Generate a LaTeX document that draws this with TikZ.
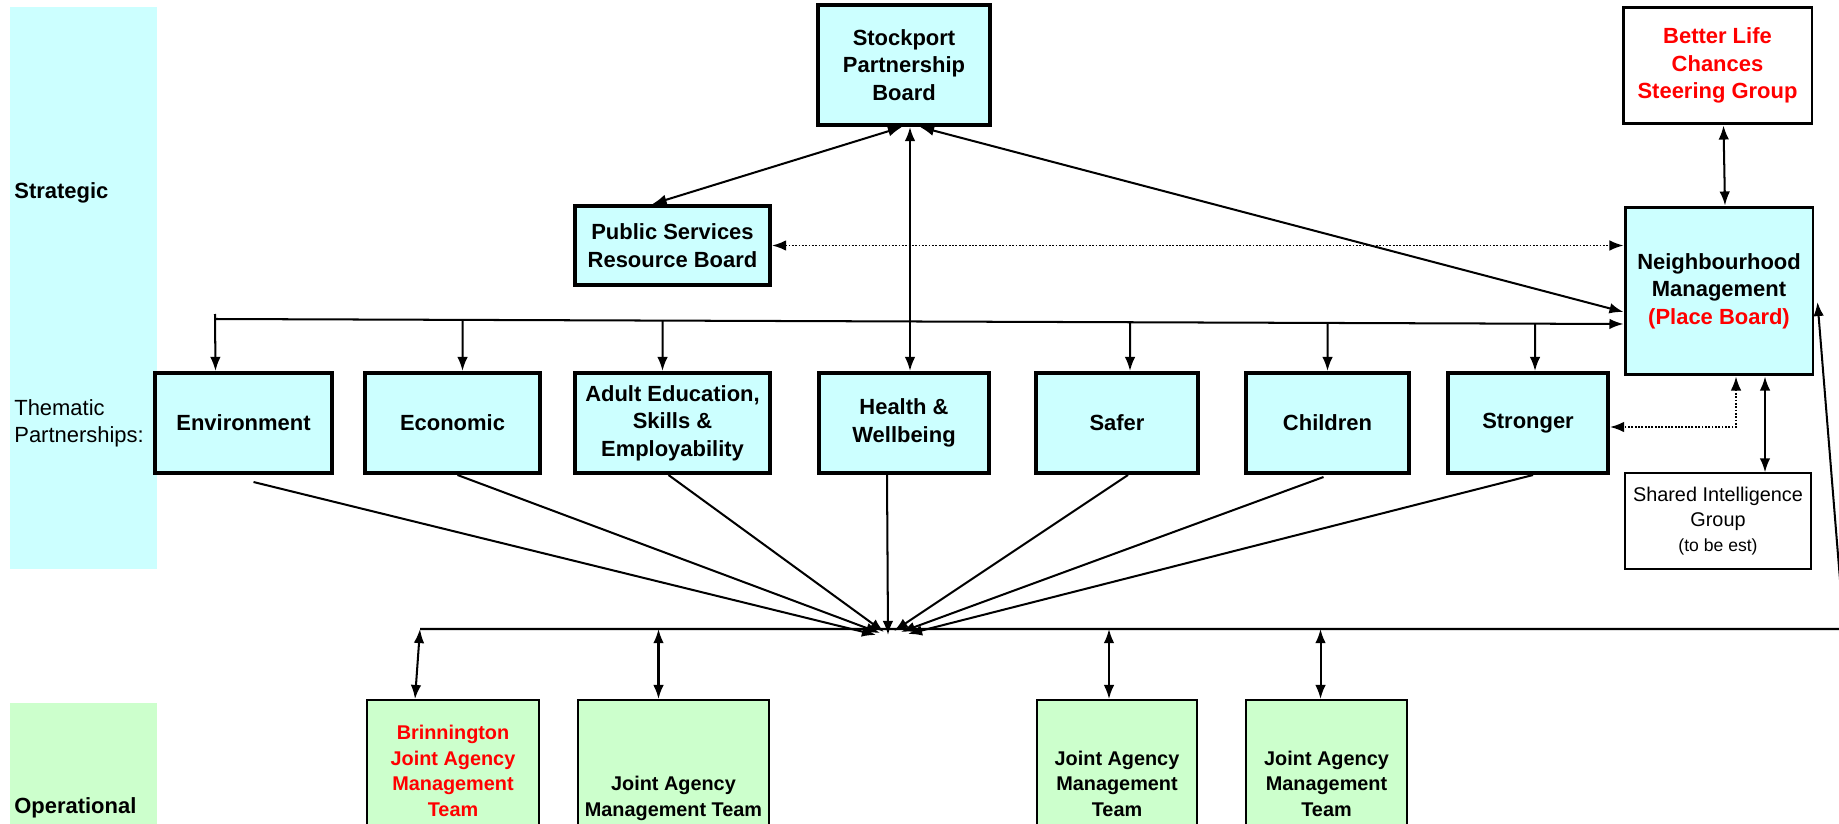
\documentclass[tikz,border=0pt]{standalone}
\usepackage{fontspec}
\setmainfont{Liberation Sans}
\usetikzlibrary{arrows.meta,calc}
\definecolor{paleblue}{HTML}{CCFFFF}
\definecolor{palegreen}{HTML}{CCFFCC}
\definecolor{placered}{HTML}{FF0000}

\begin{document}
\begin{tikzpicture}[x=0.02cm, y=-0.02cm, >={Latex[length=8pt,width=6pt]},
  board/.style={draw, line width=2.3pt, fill=paleblue, align=center, inner sep=2pt,
    font=\bfseries\fontsize{12.5}{15.6}\selectfont},
  team/.style={draw, line width=1.3pt, fill=palegreen, inner sep=0.03cm, minimum height=2.4cm,
    font=\bfseries\fontsize{11.3}{14.6}\selectfont},
  sidelabel/.style={anchor=west, align=left, inner sep=0pt, font=\fontsize{12.5}{15.6}\selectfont},
  link/.style={line width=1.15pt},
  hint/.style={line width=1pt, dash pattern=on 1pt off 0.9pt}]
  \useasboundingbox (0,0) rectangle (1839,824);
  % side bands
  \fill[paleblue] (10,7) rectangle (157,569);
  \fill[palegreen] (10,703) rectangle (157,824);
  \node[sidelabel, font=\bfseries\fontsize{12.5}{15.6}\selectfont] (strat) at (14,193) {Strategic};
  \node[sidelabel] (them) at (14,423.5) {Thematic\\Partnerships:};
  \node[sidelabel, font=\bfseries\fontsize{12.5}{15.6}\selectfont] (oper) at (14,808) {Operational};

  % strategic boards
  \node[board, minimum width=3.44cm, minimum height=2.4cm] (spb) at (904,65) {Stockport\\Partnership\\Board};
  \node[board, line width=1.7pt, fill=white, text=placered, minimum width=3.78cm, minimum height=2.34cm] (blc) at (1717.5,65.5) {Better Life\\Chances\\Steering Group};
  \node[board, minimum width=3.9cm, minimum height=1.58cm] (psrb) at (672.5,245.5) {Public Services\\Resource Board};
  \node[board, line width=1.7pt, minimum width=3.76cm, minimum height=3.36cm] (nm) at (1719,291) {Neighbourhood\\Management\\\textcolor{placered}{(Place Board)}};

  % thematic partnerships
  \node[board, minimum width=3.54cm, minimum height=2cm] (env) at (243.5,423) {Environment};
  \node[board, minimum width=3.5cm, minimum height=2cm] (eco) at (452.5,423) {Economic};
  \node[board, minimum width=3.9cm, minimum height=2cm] (adu) at (672.5,423) {Adult Education,\\Skills \&\\Employability};
  \node[board, minimum width=3.4cm, minimum height=2cm] (hwb) at (904,423) {Health \&\\Wellbeing};
  \node[board, minimum width=3.24cm, minimum height=2cm] (saf) at (1117,423) {Safer};
  \node[board, minimum width=3.26cm, minimum height=2cm] (chi) at (1327.5,423) {Children};
  \node[board, minimum width=3.2cm, minimum height=2cm] (str) at (1528,423) {Stronger};
  \node[draw, line width=0.7pt, fill=white, align=center, minimum width=3.72cm, minimum height=1.92cm,
    font=\fontsize{11.3}{14.2}\selectfont] (sig) at (1718,521) {Shared Intelligence\\Group\\{\fontsize{10}{12}\selectfont(to be est)}};

  % operational teams
  \node[team, minimum width=3.44cm] (brin) at (453,763) {\parbox[b][2.3cm][b]{3.3cm}{\centering\color{placered}Brinnington\\Joint Agency\\Management\\Team\strut}};
  \node[team, minimum width=3.82cm] (jam2) at (673.5,763) {\parbox[b][2.3cm][b]{3.7cm}{\centering Joint Agency\\Management Team\strut}};
  \node[team, minimum width=3.2cm] (jam3) at (1117,763) {\parbox[b][2.3cm][b]{3.1cm}{\centering Joint Agency\\Management\\Team\strut}};
  \node[team, minimum width=3.22cm] (jam4) at (1326.5,763) {\parbox[b][2.3cm][b]{3.1cm}{\centering Joint Agency\\Management\\Team\strut}};

  % strategic links
  \draw[link, <->] ($(spb.south)+(-2,0)$) -- ($(psrb.north)+(-20,0)$);
  \draw[link, <->] ($(spb.south)+(6,0)$) -- ($(hwb.north)+(6,0)$);
  \draw[link, <->] ($(spb.south)+(16,0)$) -- ($(nm.west)+(0,21)$);
  \draw[hint, <->] (psrb.east) -- (psrb.east -| nm.west);
  \draw[link, <->] ($(blc.south)+(6,0)$) -- ($(nm.north)+(6,0)$);

  % thematic bus
  \coordinate (busL) at (215,319);
  \coordinate (busR) at ($(nm.west)+(0,33)$);
  \draw[link, ->] (busL) -- (busR);
  \draw[link, ->] ($(busL)+(0,-5)$) -- ($(env.north)+(-28,0)$);
  \foreach \nd/\dx in {eco/10, adu/-10, saf/13, chi/0, str/7} {
    \coordinate (\nd top) at ($(\nd.north)+(\dx,0)$);
    \draw[link, ->] ($(busL)!(\nd top)!(busR)$) -- (\nd top);
  }

  % thematic to operational
  \coordinate (hub) at (890,630);
  \foreach \nd/\sx/\sy/\ex/\ey in {env/10/7/-14/5, eco/5/0/-10/3, adu/-4/0/-6/2, hwb/-17/0/-2/5,
      saf/11/0/4/1, chi/-4/2/11/2, str/5/0/18/4}
    \draw[link, ->] ($(\nd.south)+(\sx,\sy)$) -- ($(hub)+(\ex,\ey)$);

  % operational bus
  \coordinate (opL) at (420,629);
  \coordinate (opR) at (1844,629);
  \draw[link, ->] (opL) -- (opR) -- ($(nm.east)+(3,11)$);
  \draw[link, <->] (opL) -- ($(brin.north)+(-38,0)$);
  \foreach \nd/\dx in {jam2/-15, jam3/-8, jam4/-6}
    \draw[link, <->] ($(\nd.north)+(\dx,-70)$) -- ($(\nd.north)+(\dx,0)$);

  % place board links
  \draw[hint, <->] ($(nm.south)+(17,0)$) |- ($(str.east)+(0,4)$);
  \draw[link, <->] ($(nm.south)+(46,0)$) -- ($(sig.north)+(47,0)$);
\end{tikzpicture}
\end{document}
